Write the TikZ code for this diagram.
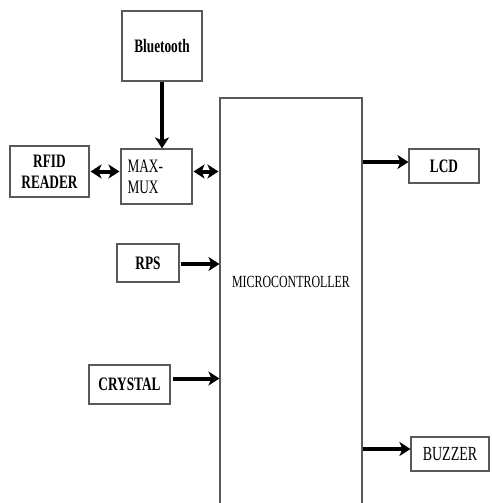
\documentclass[tikz,border=0pt]{standalone}
\usepackage{fontspec}
\setmainfont{Liberation Serif}
\newfontfamily\cond[FakeStretch=0.7]{Liberation Serif}
\usetikzlibrary{arrows.meta,calc}
\begin{document}
\begin{tikzpicture}[x=1pt,y=-1pt,
  blk/.style={draw=black!65,line width=1.1pt,fill=white,inner sep=0pt,
    font=\cond\fontsize{19}{21}\selectfont\bfseries,align=center},
  conn/.style={line width=4pt,-{Stealth[length=11pt,width=14pt,inset=3pt]}},
  dconn/.style={line width=4pt,{Stealth[length=11pt,width=14pt,inset=3pt]}-{Stealth[length=11pt,width=14pt,inset=3pt]}}]
\useasboundingbox (0,0) rectangle (491,503);
\node[blk,minimum width=80pt,minimum height=70pt] (bt) at (162,46) {Bluetooth};
\node[blk,minimum width=71pt,minimum height=55pt,align=left,font=\cond\fontsize{19}{21}\selectfont,text width=58pt] (mux) at (156.5,176.5) {MAX-\\MUX};
\node[blk,minimum width=79pt,minimum height=51pt] (rfid) at (49.5,171.5) {RFID\\READER};
\node[blk,minimum width=142pt,minimum height=406pt] (micro) at (291,301) {};
\node[font=\cond\fontsize{17}{15}\selectfont] (mtext) at (291,282) {MICROCONTROLLER};
\node[blk,minimum width=70pt,minimum height=34pt] (lcd) at (444,166) {LCD};
\node[blk,text width=78pt,minimum height=34pt,font=\cond\fontsize{20}{15}\selectfont] (buz) at (450,454) {BUZZER};
\node[blk,minimum width=62pt,minimum height=38pt] (rps) at (148,263) {RPS};
\node[blk,minimum width=81pt,minimum height=39pt] (cry) at (129.5,384.5) {CRYSTAL};
\draw[conn] (bt.south) -- (bt.south |- mux.north);
\draw[dconn] ($(rfid.east)+(1,0)$) -- ($(rfid.east -| mux.west)+(-1,0)$);
\draw[dconn] ($(rfid.east -| mux.east)+(1,0)$) -- ($(rfid.east -| micro.west)+(-1,0)$);
\draw[conn] ($(rps.east)+(1,1)$) -- ($(rps.east -| micro.west)+(0,1)$);
\draw[conn] ($(cry.east)+(2,-6)$) -- ($(cry.east -| micro.west)+(0,-6)$);
\draw[conn] ($(micro.east |- lcd.west)+(0,-4)$) -- ($(lcd.west)+(0,-4)$);
\draw[conn] ($(micro.east |- buz.west)+(0,-5)$) -- ($(buz.west)+(0,-5)$);
\end{tikzpicture}
\end{document}
